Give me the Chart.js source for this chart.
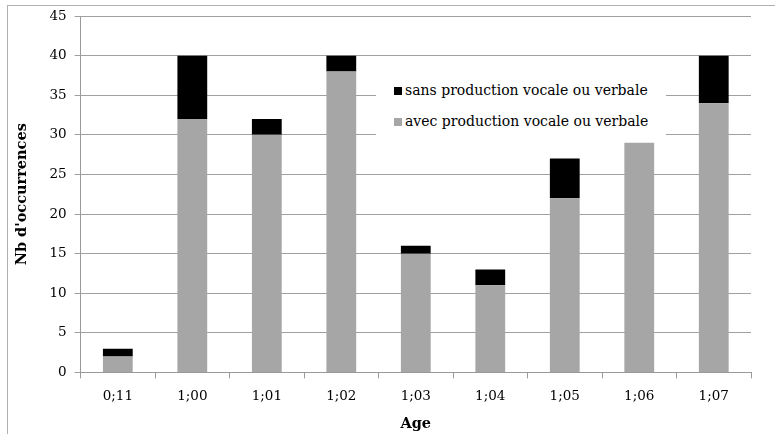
<!DOCTYPE html>
<html>
<head>
<meta charset="utf-8">
<script src="https://cdn.jsdelivr.net/npm/chart.js@4"></script>
<style>
    body { margin: 0; background: #fff; }
    #wrap { position: relative; width: 775px; height: 434px; }
    #frame { position: absolute; left: 7px; top: 5px; width: 780px; height: 440px; border: 1px solid #b0b0b0; }
    #legend { position: absolute; left: 376px; top: 79px; width: 290px; height: 58px; background: #fff;
        font-family: "DejaVu Serif", serif; font-size: 14px; color: #000; }
    .row { position: absolute; left: 18px; white-space: nowrap; }
    .box { display: inline-block; width: 8px; height: 8px; margin-right: 3px; }
</style>
</head>
<body>
<div id="wrap">
    <div id="frame"></div>
    <canvas id="bar" width="775" height="434"></canvas>
    <div id="legend">
        <div class="row" style="top: 3px;"><span class="box" style="background:#000"></span>sans production vocale ou verbale</div>
        <div class="row" style="top: 34px;"><span class="box" style="background:#a6a6a6"></span>avec production vocale ou verbale</div>
    </div>
</div>
<script>
// DATA
const ages = ["0;11", "1;00", "1;01", "1;02", "1;03", "1;04", "1;05", "1;06", "1;07"];
const avecProduction = [2, 32, 30, 38, 15, 11, 22, 29, 34];
const sansProduction = [1, 8, 2, 2, 1, 2, 5, 0, 6];

const fontFamily = '"DejaVu Serif", serif';

const ctx = document.getElementById("bar").getContext("2d");

new Chart(ctx, {
    type: 'bar',
    data: {
        labels: ages,
        datasets: [{
            label: 'avec production vocale ou verbale',
            data: avecProduction,
            backgroundColor: '#a6a6a6',
            barPercentage: 0.4,
            categoryPercentage: 1
        }, {
            label: 'sans production vocale ou verbale',
            data: sansProduction,
            backgroundColor: '#000000',
            barPercentage: 0.4,
            categoryPercentage: 1
        }]
    },
    options: {
        responsive: false,
        animation: false,
        layout: {
            padding: { left: 14, right: 24, top: 13, bottom: 1 }
        },
        plugins: {
            legend: { display: false },
            tooltip: { enabled: false }
        },
        scales: {
            x: {
                stacked: true,
                grid: {
                    drawOnChartArea: false,
                    color: '#999999',
                    tickLength: 6
                },
                border: { color: '#999999' },
                ticks: {
                    color: '#000',
                    padding: 10,
                    font: { family: fontFamily, size: 13.5 }
                },
                title: {
                    display: true,
                    text: 'Age',
                    color: '#000',
                    padding: { top: 1, bottom: 0 },
                    font: { family: fontFamily, size: 14.5, weight: 'bold' }
                }
            },
            y: {
                stacked: true,
                min: 0,
                max: 45,
                ticks: {
                    stepSize: 5,
                    color: '#000',
                    padding: 8,
                    font: { family: fontFamily, size: 13.5 }
                },
                grid: {
                    color: '#a0a0a0',
                    tickLength: 6
                },
                border: { color: '#999999' },
                title: {
                    display: true,
                    text: "Nb d'occurrences",
                    color: '#000',
                    padding: { top: 0, bottom: 10 },
                    font: { family: fontFamily, size: 14.5, weight: 'bold' }
                }
            }
        }
    }
});
</script>
</body>
</html>
